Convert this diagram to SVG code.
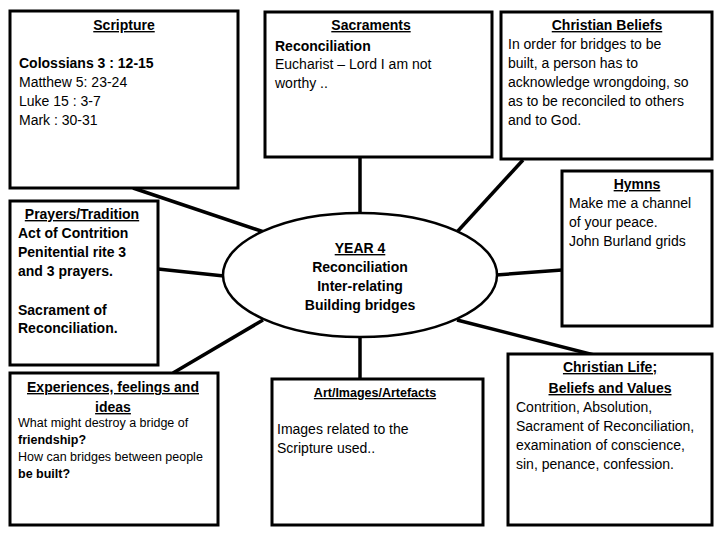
<svg xmlns="http://www.w3.org/2000/svg" width="720" height="540" viewBox="0 0 720 540">
<style>
text{font-family:"Liberation Sans",Arial,sans-serif;font-size:14px;fill:#000}
.t{font-weight:bold;text-decoration:underline;text-anchor:middle}
.b{font-weight:bold}
.s{font-size:12.5px}
.box{fill:#fff;stroke:#000;stroke-width:3}
.c{stroke:#000;stroke-width:3.5;fill:none}
</style>
<rect width="720" height="540" fill="#fff"/>
<g id="connectors">
<line class="c" x1="133" y1="188" x2="264" y2="232"/>
<line class="c" x1="360" y1="157" x2="360" y2="214"/>
<line class="c" x1="523" y1="160" x2="457" y2="232"/>
<line class="c" x1="158" y1="269" x2="224" y2="276"/>
<line class="c" x1="562" y1="270" x2="496" y2="275"/>
<line class="c" x1="173" y1="373" x2="263" y2="320"/>
<line class="c" x1="360" y1="336" x2="360" y2="379"/>
<line class="c" x1="457" y1="320" x2="594" y2="355"/>
</g>
<g id="scripture">
<rect class="box" x="10" y="11" width="228" height="177"/>
<text class="t" x="124" y="30">Scripture</text>
<text class="b" x="19" y="68">Colossians 3 : 12-15</text>
<text x="19" y="87">Matthew 5: 23-24</text>
<text x="19" y="106">Luke 15 : 3-7</text>
<text x="19" y="125">Mark : 30-31</text>
</g>
<g id="sacraments">
<rect class="box" x="265" y="12" width="227" height="145"/>
<text class="t" x="371" y="30">Sacraments</text>
<text class="b" x="275" y="51">Reconciliation</text>
<text x="275" y="69">Eucharist – Lord I am not</text>
<text x="275" y="88">worthy ..</text>
</g>
<g id="christian-beliefs">
<rect class="box" x="501" y="12" width="211" height="147"/>
<text class="t" x="607" y="30">Christian Beliefs</text>
<text x="508" y="49">In order for bridges to be</text>
<text x="508" y="68">built, a person has to</text>
<text x="508" y="87">acknowledge wrongdoing, so</text>
<text x="508" y="106">as to be reconciled to others</text>
<text x="508" y="125">and to God.</text>
</g>
<g id="prayers">
<rect class="box" x="10" y="201" width="148" height="164"/>
<text class="t" x="82" y="219">Prayers/Tradition</text>
<text class="b" x="18" y="238">Act of Contrition</text>
<text class="b" x="18" y="257">Penitential rite 3</text>
<text class="b" x="18" y="276">and 3 prayers.</text>
<text class="b" x="18" y="315">Sacrament of</text>
<text class="b" x="18" y="333">Reconciliation.</text>
</g>
<g id="centre">
<ellipse cx="360" cy="275" rx="137" ry="62" fill="#fff" stroke="#000" stroke-width="2.5"/>
<text class="t" x="360" y="253">YEAR 4</text>
<text class="b" x="360" y="272" text-anchor="middle">Reconciliation</text>
<text class="b" x="360" y="291" text-anchor="middle">Inter-relating</text>
<text class="b" x="360" y="310" text-anchor="middle">Building bridges</text>
</g>
<g id="hymns">
<rect class="box" x="562" y="171" width="150" height="155"/>
<text class="t" x="637" y="189">Hymns</text>
<text x="569" y="208">Make me a channel</text>
<text x="569" y="227">of your peace.</text>
<text x="569" y="246">John Burland grids</text>
</g>
<g id="experiences">
<rect class="box" x="10" y="373" width="208" height="152"/>
<text class="t" x="113" y="392">Experiences, feelings and</text>
<text class="t" x="113" y="412">ideas</text>
<text class="s" x="18" y="427">What might destroy a bridge of</text>
<text class="s b" x="18" y="444">friendship?</text>
<text class="s" x="18" y="461">How can bridges between people</text>
<text class="s b" x="18" y="478">be built?</text>
</g>
<g id="art">
<rect class="box" x="272" y="379" width="211" height="146"/>
<text class="t s" x="375" y="397">Art/Images/Artefacts</text>
<text x="277" y="434">Images related to the</text>
<text x="277" y="453">Scripture used..</text>
</g>
<g id="christian-life">
<rect class="box" x="508" y="354" width="204" height="171"/>
<text class="t" x="610" y="372">Christian Life;</text>
<text class="t" x="610" y="393">Beliefs and Values</text>
<text x="516" y="412">Contrition, Absolution,</text>
<text x="516" y="431">Sacrament of Reconciliation,</text>
<text x="516" y="450">examination of conscience,</text>
<text x="516" y="469">sin, penance, confession.</text>
</g>
</svg>
